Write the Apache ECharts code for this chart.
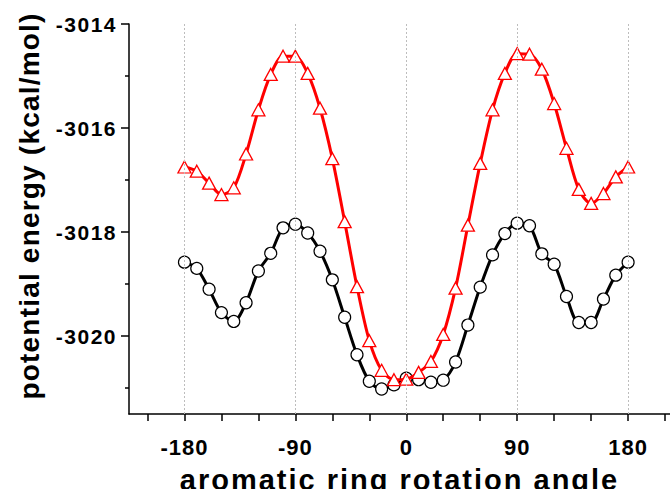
<!DOCTYPE html>
<html>
<head>
<meta charset="utf-8">
<script src="https://cdn.jsdelivr.net/npm/echarts@6/dist/echarts.min.js"></script>
<style>
  html, body { margin: 0; padding: 0; background: #fff; }
  #chart { width: 670px; height: 489px; }
  /* the original uses spaced-out lettering; sizes are unique per text role */
  #chart svg text[style*="21px"] { letter-spacing: 1.5px; }
  #chart svg text[style*="22px"] { letter-spacing: 1px; }
  #chart svg text[style*="28px"] { letter-spacing: 1.2px; }
  #chart svg text[style*="29px"] { letter-spacing: 2px; }
</style>
</head>
<body>
<div id="chart"></div>
<script>
// rotation angle (deg), sampled every 10 degrees
const angles = [-180, -170, -160, -150, -140, -130, -120, -110, -100, -90,
  -80, -70, -60, -50, -40, -30, -20, -10, 0, 10, 20, 30, 40, 50, 60, 70, 80,
  90, 100, 110, 120, 130, 140, 150, 160, 170, 180];

// black curve (circles)
const blackEnergy = [-3018.58, -3018.70, -3019.10, -3019.55, -3019.72, -3019.36,
  -3018.75, -3018.41, -3017.92, -3017.85, -3018.02, -3018.37, -3018.92, -3019.64,
  -3020.36, -3020.87, -3021.02, -3020.94, -3020.81, -3020.84, -3020.89, -3020.85,
  -3020.50, -3019.79, -3019.06, -3018.44, -3018.03, -3017.83, -3017.88, -3018.42,
  -3018.62, -3019.24, -3019.74, -3019.74, -3019.29, -3018.83, -3018.58];

// red curve (triangles)
const redEnergy = [-3016.75, -3016.83, -3017.06, -3017.28, -3017.15, -3016.50,
  -3015.65, -3014.97, -3014.62, -3014.62, -3014.95, -3015.62, -3016.59, -3017.80,
  -3019.05, -3020.09, -3020.66, -3020.84, -3020.83, -3020.70, -3020.49, -3019.97,
  -3019.08, -3017.87, -3016.68, -3015.65, -3014.95, -3014.57, -3014.58, -3014.87,
  -3015.53, -3016.39, -3017.18, -3017.45, -3017.26, -3016.94, -3016.75];

// axis ticks / labels
const xLabelValues = [-180, -90, 0, 90, 180];
const xTickValues = [-210, -180, -150, -120, -90, -60, -30, 0, 30, 60, 90, 120, 150, 180, 210];
const gridXValues = [-180, -90, 0, 90, 180];
const yLabelValues = [-3020, -3018, -3016, -3014];
const yMinorValues = [-3021, -3019, -3017, -3015];

const FONT = "'Liberation Sans', Arial, sans-serif";

const chart = echarts.init(document.getElementById('chart'), null, { renderer: 'svg' });

const toPairs = (ys) => angles.map((a, i) => [a, ys[i]]);

const option = {
  animation: false,
  backgroundColor: '#fff',
  grid: { left: 129, right: 0, top: 24, bottom: 75, containLabel: false, outerBoundsMode: 'none' },
  xAxis: {
    type: 'value',
    min: -225,
    max: 214,
    name: 'aromatic ring rotation angle',
    nameLocation: 'middle',
    nameGap: 51,
    nameTextStyle: { fontFamily: FONT, fontWeight: 'bold', fontSize: 29, color: '#000' },
    axisLine: { show: true, onZero: false, lineStyle: { color: '#000', width: 1.5 } },
    axisTick: { show: true, inside: false, length: 7, customValues: xTickValues,
      lineStyle: { color: '#000', width: 1.5 } },
    axisLabel: { customValues: xLabelValues, margin: 22, fontFamily: FONT,
      fontWeight: 'bold', fontSize: 22, color: '#000', formatter: v => String(v) },
    splitLine: { show: false }
  },
  yAxis: [
    {
      type: 'value',
      min: -3021.5,
      max: -3014,
      name: 'potential energy (kcal/mol)',
      nameLocation: 'middle',
      nameGap: 86,
      nameRotate: 90,
      nameTextStyle: { fontFamily: FONT, fontWeight: 'bold', fontSize: 28, color: '#000',
        padding: [0, 0, 0, 26] },
      axisLine: { show: true, onZero: false, lineStyle: { color: '#000', width: 1.5 } },
      axisTick: { show: true, inside: false, length: 8, customValues: yLabelValues,
        lineStyle: { color: '#000', width: 1.5 } },
      axisLabel: { customValues: yLabelValues, margin: 12, fontFamily: FONT,
        fontWeight: 'bold', fontSize: 21, color: '#000', formatter: v => String(v) },
      splitLine: { show: false }
    },
    {
      // minor ticks only
      type: 'value',
      position: 'left',
      min: -3021.5,
      max: -3014,
      axisLine: { show: false, onZero: false },
      axisTick: { show: true, inside: false, length: 4, customValues: yMinorValues,
        lineStyle: { color: '#000', width: 1.5 } },
      axisLabel: { show: false },
      splitLine: { show: false }
    }
  ],
  series: [
    {
      name: 'black',
      type: 'line',
      data: toPairs(blackEnergy),
      smooth: 0.3,
      symbol: 'circle',
      symbolSize: 12,
      lineStyle: { color: '#000', width: 3 },
      itemStyle: { color: '#fff', borderColor: '#000', borderWidth: 1.2 },
      clip: false,
      markLine: {
        silent: true,
        symbol: ['none', 'none'],
        label: { show: false },
        lineStyle: { color: '#bdbdbd', type: [2, 2], width: 1 },
        data: gridXValues.map(v => ({ xAxis: v }))
      },
      z: 2
    },
    {
      name: 'red',
      type: 'line',
      data: toPairs(redEnergy),
      smooth: 0.3,
      symbol: 'triangle',
      symbolSize: [13, 12],
      lineStyle: { color: '#ff0000', width: 3 },
      itemStyle: { color: '#fff', borderColor: '#ff0000', borderWidth: 1.3 },
      clip: false,
      z: 3
    }
  ]
};

chart.setOption(option);
</script>
</body>
</html>
